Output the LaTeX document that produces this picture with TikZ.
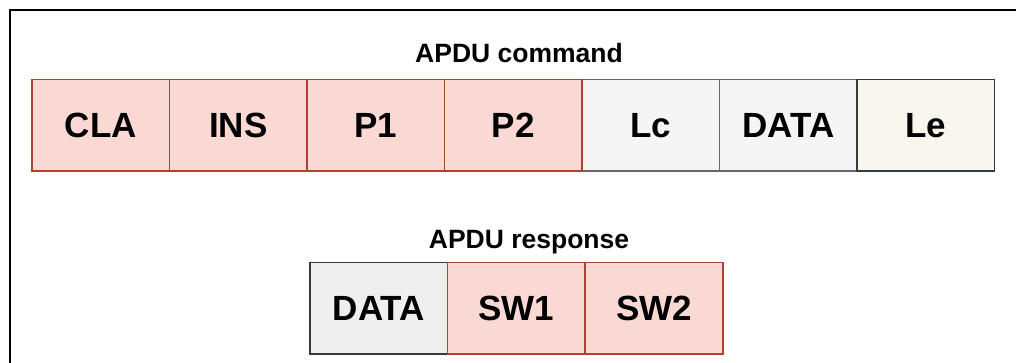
\documentclass[tikz,border=0pt]{standalone}
\usepackage{fontspec}
\setmainfont{Liberation Sans}
\definecolor{redfill}{HTML}{FAD9D5}
\definecolor{redline}{HTML}{AE4132}
\definecolor{grayfill}{HTML}{F5F5F5}
\definecolor{grayline}{HTML}{666666}
\definecolor{creamfill}{HTML}{F9F7ED}
\definecolor{darkline}{HTML}{36393D}
\definecolor{darkgrayfill}{HTML}{EEEEEE}
\begin{document}
\begin{tikzpicture}[x=1pt,y=-1pt,
  cell/.style={rectangle, draw, line width=1.5pt, inner sep=0pt, outer sep=0pt,
    minimum width=137.5pt, minimum height=91.5pt, anchor=north west,
    font=\fontsize{35}{40}\selectfont\bfseries},
  redcell/.style={cell, fill=redfill, draw=redline},
  graycell/.style={cell, fill=grayfill, draw=grayline},
  creamcell/.style={cell, fill=creamfill, draw=darkline},
  dgraycell/.style={cell, fill=darkgrayfill, draw=darkline},
  heading/.style={inner sep=0pt, anchor=base, font=\fontsize{26.5}{30}\selectfont\bfseries}]
\useasboundingbox (0,0) rectangle (1016,363);
\fill[white] (0,0) rectangle (1016,363);
\draw[line width=2pt, black] (9.5,10.5) rectangle (1040,390);
% command
\node[heading] (cmdlabel) at (519,63) {APDU command};
\node[redcell] (cla) at (32,79.5) {CLA};
\node[redcell] (ins) at (169.5,79.5) {INS};
\node[redcell] (p1) at (307,79.5) {P1};
\node[redcell] (p2) at (444.5,79.5) {P2};
\node[graycell] (lc) at (582,79.5) {Lc};
\node[graycell] (data) at (719.5,79.5) {DATA};
\node[creamcell] (le) at (857,79.5) {Le};
\draw[redline, line width=1.5pt] (p2.north east) -- (p2.south east);
% response
\node[heading] (resplabel) at (529,248.5) {APDU response};
\node[dgraycell] (rdata) at (310,262.5) {DATA};
\node[redcell] (sw1) at (447.7,262.5) {SW1};
\node[redcell] (sw2) at (585.4,262.5) {SW2};
\end{tikzpicture}
\end{document}
